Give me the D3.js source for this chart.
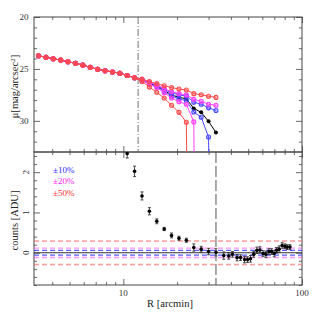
<!DOCTYPE html>
<html><head><meta charset="utf-8">
<script src="https://cdn.jsdelivr.net/npm/d3@7"></script>
<style>body{margin:0;background:#fff}</style>
</head><body><svg id="c" width="319" height="319"></svg>
<script>
// ---------- data ----------
const profileRadius = [3.35,3.69,4.05,4.46,4.90,5.40,5.93,6.53,7.18,7.90,8.69,9.56,10.51,11.56,12.72,13.99,15.39,16.93,18.62,20.48,22.53,24.79,27.27,29.99,32.99];
const muCommon = [23.73,23.88,24.02,24.15,24.31,24.46,24.63,24.85,25.03,25.17,25.29,25.41,25.64,25.85];
const muBlack  = muCommon.concat([26.05,26.38,26.65,27.08,27.50,27.74,27.87,28.80,29.18,30.05,31.12]);
const muBlueUp = muCommon.concat([26.02,26.33,26.58,26.98,27.30,27.50,27.62,28.20,28.40,28.75,29.00]);
const muBlueLo = muCommon.concat([26.08,26.42,26.72,27.15,27.60,27.90,28.05,29.15,29.65,31.55,99]);
const muMagUp  = muCommon.concat([26.00,26.30,26.52,26.90,27.20,27.38,27.50,27.93,28.12,28.40,28.50]);
const muMagLo  = muCommon.concat([26.10,26.48,26.80,27.30,27.80,28.15,28.40,30.10,99]);
const muRedUp  = muCommon.concat([25.98,26.22,26.42,26.62,26.80,26.94,27.03,27.38,27.49,27.63,27.74]);
const muRedLo  = muCommon.concat([26.20,26.75,27.25,27.80,28.50,29.18,30.14,99]);

const countsRadius = [10.51,11.56,12.72,13.99,15.39,16.93,18.62,20.48,22.53,24.79,27.27,29.99,32.99,36.5,38.9,40.8,43.3,45.3,47.7,49.6,51.5,53.7,55.9,58.1,60.6,62.8,65.3,67.6,69.9,72.1,74.5,77.4,80.2,82.6,85.6];
const counts = [2.46,2.02,1.41,1.03,0.78,0.59,0.43,0.36,0.31,0.13,0.09,0.03,0.01,-0.07,-0.08,-0.04,-0.12,-0.12,-0.17,-0.17,-0.15,-0.04,0.06,0.07,-0.02,-0.04,0.03,0.03,-0.02,0.06,0.09,0.18,0.16,0.14,0.14];
const countsErr = [0.11,0.13,0.10,0.09,0.06,0.04,0.06,0.05,0.05,0.09,0.07,0.08,0.09,0.09,0.08,0.07,0.08,0.07,0.08,0.07,0.08,0.07,0.08,0.08,0.07,0.08,0.07,0.07,0.08,0.07,0.08,0.07,0.06,0.06,0.06];

const bandLevels = [0.058,0.116,0.29];
const bandLabels = ["\u00b110%","\u00b120%","\u00b150%"];
const bandColors = ["#4a4aff","#ff4cff","#ff5a5a"];
const bandTextColors = ["#2a2aff","#ff20ff","#ff2a2a"];

const rCore = 12.1, rLimit = 33.0;
const xMajorTicks = [10,100], xMinorTicks = [4,5,6,7,8,9,20,30,40,50,60,70,80,90];
const yTopMajor = [20,25,30], yTopMinor = [21,22,23,24,26,27,28,29,31,32];
const yBotMajor = [0,1,2], yBotMinor = [-0.8,-0.6,-0.4,-0.2,0.2,0.4,0.6,0.8,1.2,1.4,1.6,1.8,2.2,2.4];

// ---------- layout ----------
const L=34,R=302,T=17,M=152,B=285;
const svg = d3.select("#c");
const x = d3.scaleLog().domain([Math.sqrt(10),100]).range([L,R]);
const yT = d3.scaleLinear().domain([20,33]).range([T,M]);
const yB = d3.scaleLinear().domain([2.5,-0.8]).range([M,B]);
const axisCol = "#444";

svg.append("defs").append("clipPath").attr("id","clipT")
  .append("rect").attr("x",L).attr("y",T).attr("width",R-L).attr("height",M-T);

function ticksFor(g, axisFn, scale, vals, size){
  g.call(axisFn(scale).tickValues(vals).tickSize(size).tickFormat(""));
  g.select(".domain").remove();
  g.selectAll(".tick line").attr("stroke",axisCol).attr("stroke-width",0.8);
}
function panelTicks(y0,y1,yScale,maj,mnr){
  ticksFor(svg.append("g").attr("transform",`translate(0,${y1})`), d3.axisBottom, x, xMinorTicks, -3);
  ticksFor(svg.append("g").attr("transform",`translate(0,${y1})`), d3.axisBottom, x, xMajorTicks, -6);
  ticksFor(svg.append("g").attr("transform",`translate(0,${y0})`), d3.axisTop, x, xMinorTicks, -3);
  ticksFor(svg.append("g").attr("transform",`translate(0,${y0})`), d3.axisTop, x, xMajorTicks, -6);
  ticksFor(svg.append("g").attr("transform",`translate(${L},0)`), d3.axisLeft, yScale, mnr, -3);
  ticksFor(svg.append("g").attr("transform",`translate(${L},0)`), d3.axisLeft, yScale, maj, -6);
  ticksFor(svg.append("g").attr("transform",`translate(${R},0)`), d3.axisRight, yScale, mnr, -3);
  ticksFor(svg.append("g").attr("transform",`translate(${R},0)`), d3.axisRight, yScale, maj, -6);
}
panelTicks(T,M,yT,yTopMajor,yTopMinor);
panelTicks(M,B,yB,yBotMajor,yBotMinor);

// frames
svg.append("rect").attr("x",L).attr("y",T).attr("width",R-L).attr("height",M-T).attr("fill","none").attr("stroke",axisCol).attr("stroke-width",1);
svg.append("rect").attr("x",L).attr("y",M).attr("width",R-L).attr("height",B-M).attr("fill","none").attr("stroke",axisCol).attr("stroke-width",1);

// tick labels
const serif = "Liberation Serif";
yTopMajor.forEach(v=>svg.append("text").attr("x",24).attr("y",yT(v)+3.2).attr("text-anchor","middle")
  .attr("font-family",serif).attr("font-size",9).attr("fill","#333").text(v));
yBotMajor.forEach(v=>svg.append("text").attr("transform",`translate(29,${yB(v)}) rotate(-90)`).attr("text-anchor","middle")
  .attr("font-family",serif).attr("font-size",9).attr("fill","#333").text(v));
xMajorTicks.forEach(v=>svg.append("text").attr("x",x(v)).attr("y",296).attr("text-anchor","middle")
  .attr("font-family",serif).attr("font-size",9).attr("fill","#333").text(v));

// axis labels
svg.append("text").attr("x",(L+R)/2+2).attr("y",307).attr("text-anchor","middle")
  .attr("font-family",serif).attr("font-size",10.5).attr("fill","#222").text("R [arcmin]");
svg.append("text").attr("transform",`translate(18,${(T+M)/2+2}) rotate(-90)`).attr("text-anchor","middle")
  .attr("font-family",serif).attr("font-size",10.5).attr("fill","#222")
  .html('\u03bc[mag/arcsec<tspan dy="-3.5" font-size="7">2</tspan><tspan dy="3.5">]</tspan>');
svg.append("text").attr("transform",`translate(18,${(M+B)/2+2}) rotate(-90)`).attr("text-anchor","middle")
  .attr("font-family",serif).attr("font-size",10.5).attr("fill","#222").text("counts [ADU]");

// reference vertical lines
svg.append("line").attr("x1",x(rCore)).attr("x2",x(rCore)).attr("y1",T).attr("y2",M)
  .attr("stroke","#666").attr("stroke-width",0.9).attr("stroke-dasharray","7,2,1,2");
svg.append("line").attr("x1",x(rLimit)).attr("x2",x(rLimit)).attr("y1",M).attr("y2",B)
  .attr("stroke","#555").attr("stroke-width",1).attr("stroke-dasharray","11,3");

// ---------- top panel profiles ----------
const gT = svg.append("g").attr("clip-path","url(#clipT)");
const line = d3.line().x(d=>x(d[0])).y(d=>yT(d[1]));
function series(vals,color,filled){
  const pts = vals.map((v,i)=>[profileRadius[i],v]);
  gT.append("path").attr("d",line(pts)).attr("fill","none").attr("stroke",color).attr("stroke-width",1);
  gT.selectAll(null).data(pts.filter(p=>p[1]<33)).enter().append("circle")
    .attr("cx",d=>x(d[0])).attr("cy",d=>yT(d[1])).attr("r",2)
    .attr("fill",color).attr("fill-opacity",filled?1:0.35)
    .attr("stroke",color).attr("stroke-width",filled?0:1.1);
}
series(muBlack,"#000",true);
series(muBlueUp,"#4a4aff",false);
series(muBlueLo,"#4a4aff",false);
series(muMagUp,"#ff40ff",false);
series(muMagLo,"#ff40ff",false);
series(muRedUp,"#ff4b4b",false);
series(muRedLo,"#ff4b4b",false);

// ---------- bottom panel ----------
const dashes = "5,3";
bandLevels.forEach((lv,i)=>{
  [lv,-lv].forEach(v=>svg.append("line").attr("x1",L).attr("x2",R).attr("y1",yB(v)).attr("y2",yB(v))
    .attr("stroke",bandColors[i]).attr("stroke-opacity",i==0?0.9:0.6).attr("stroke-width",1.4).attr("stroke-dasharray",dashes));
});
svg.append("line").attr("x1",L).attr("x2",R).attr("y1",yB(0)).attr("y2",yB(0)).attr("stroke","#333").attr("stroke-width",1);

bandLabels.forEach((t,i)=>svg.append("text").attr("x",53).attr("y",172.5+i*11.8)
  .attr("font-family",serif).attr("font-size",9).attr("fill",bandTextColors[i]).text(t));

const cpts = countsRadius.map((r,i)=>({r,v:counts[i],e:countsErr[i]}));
const gB = svg.append("g");
cpts.forEach(d=>{
  const cx=x(d.r), y1=yB(d.v+d.e), y2=yB(d.v-d.e);
  gB.append("line").attr("x1",cx).attr("x2",cx).attr("y1",Math.max(y1,M)).attr("y2",y2).attr("stroke","#222").attr("stroke-width",0.8);
  if(y1>=M) gB.append("line").attr("x1",cx-1.5).attr("x2",cx+1.5).attr("y1",y1).attr("y2",y1).attr("stroke","#222").attr("stroke-width",0.8);
  gB.append("line").attr("x1",cx-1.5).attr("x2",cx+1.5).attr("y1",y2).attr("y2",y2).attr("stroke","#222").attr("stroke-width",0.8);
});
gB.selectAll("circle").data(cpts).enter().append("circle")
  .attr("cx",d=>x(d.r)).attr("cy",d=>yB(d.v)).attr("r",1.8).attr("fill","#000");
</script></body></html>
